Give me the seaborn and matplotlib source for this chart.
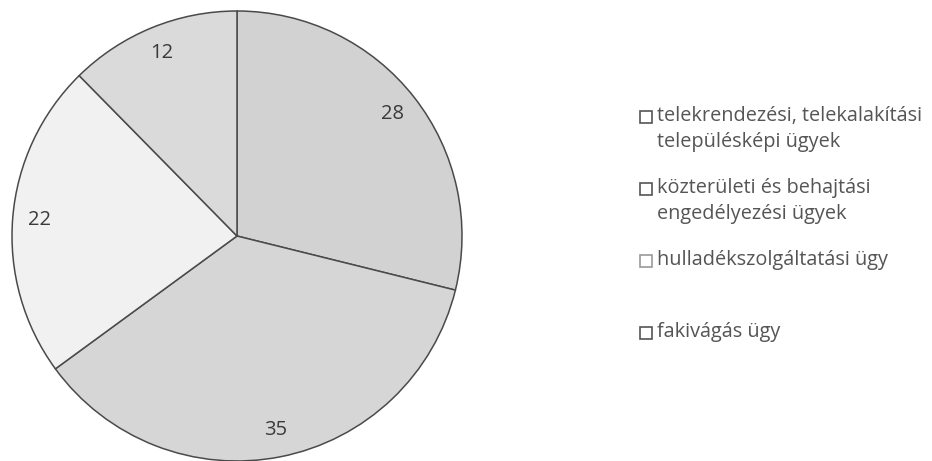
import matplotlib.pyplot as plt
import matplotlib.patches as mpatches
import seaborn as sns

CATEGORIES = [
    "telekrendezési, telekalakítási\ntelepülésképi ügyek",
    "közterületi és behajtási\nengedélyezési ügyek",
    "hulladékszolgáltatási ügy",
    "fakivágás ügy",
]
VALUES = [28, 35, 22, 12]
SLICE_COLORS = ["#d2d2d2", "#d6d6d6", "#f1f1f1", "#dadada"]
MARKER_EDGES = ["#555555", "#555555", "#9a9a9a", "#555555"]

sns.set_theme(style="white")
plt.rcParams["font.family"] = ["Open Sans", "DejaVu Sans"]

W, H = 932, 461
fig = plt.figure(figsize=(W / 100, H / 100), dpi=100)
fig.patch.set_facecolor("white")

# pie: centre ~(237, 237) px, radius ~225 px
ax = fig.add_axes([12 / W, 0, 450 / W, 450 / H])
wedges, texts = ax.pie(
    VALUES,
    labels=[str(v) for v in VALUES],
    colors=SLICE_COLORS,
    startangle=90,
    counterclock=False,
    labeldistance=0.88,
    wedgeprops=dict(edgecolor="#4a4a4a", linewidth=1.1),
    textprops=dict(fontsize=14.5, color="#3a3a3a", ha="center", va="center"),
)
for t in texts:
    t.set_horizontalalignment("center")
ax.set_xlim(-1.0, 1.0)
ax.set_ylim(-1.0, 1.0)
ax.set_aspect("equal")
ax.axis("off")

# legend entries, marker sits next to the first line of each label
first_baseline = 121
entry_gap = 72
line_gap = 26
for i, (label, edge) in enumerate(zip(CATEGORIES, MARKER_EDGES)):
    y = first_baseline + i * entry_gap
    fig.patches.append(mpatches.Rectangle(
        (640 / W, 1 - (y + 2) / H), 12 / W, 12 / H,
        transform=fig.transFigure, facecolor="white",
        edgecolor=edge, linewidth=1.2,
    ))
    for j, line in enumerate(label.split("\n")):
        fig.text(657 / W, 1 - (y + j * line_gap) / H, line, ha="left",
                 va="baseline", fontsize=14.3, color="#555555")

fig.savefig("out.png", dpi=100, facecolor="white")
